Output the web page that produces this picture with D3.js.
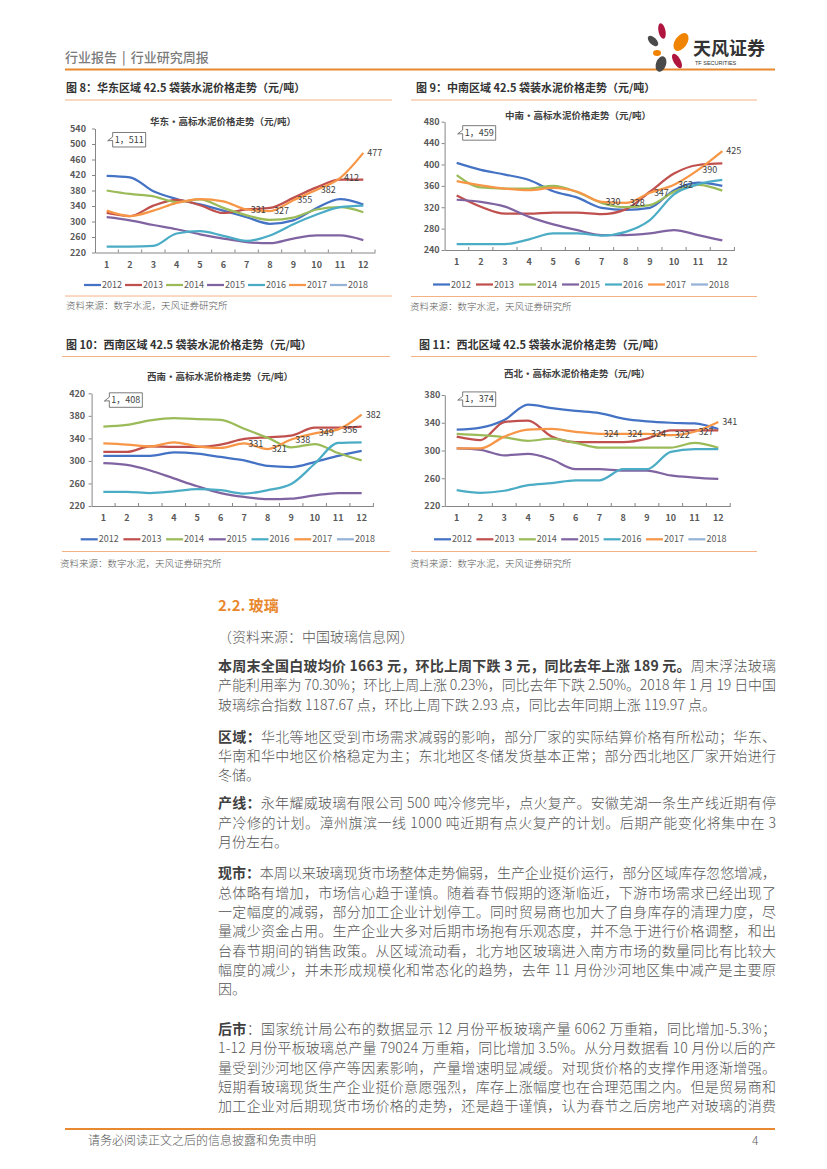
<!DOCTYPE html>
<html><head><meta charset="utf-8">
<script src="https://cdn.jsdelivr.net/npm/d3@7"></script>
<style>
html,body{margin:0;padding:0;background:#fff;}
svg{display:block;}
</style></head><body>
<script>
// ---------- data ----------
const months = ['1','2','3','4','5','6','7','8','9','10','11','12'];
const years = ['2012','2013','2014','2015','2016','2017','2018'];
const yearColors = ['#4472C4','#C0504D','#9BBB59','#8064A2','#4BACC6','#F79646','#95B3D7'];

// 华东
const east2012 = [418,414,378,358,344,328,311,294,303,335,358,344];
const east2013 = [322,314,341,356,342,322,331,335,361,388,408,408];
const east2014 = [380,371,365,350,357,335,316,304,310,331,337,324];
const east2015 = [311,303,291,280,267,256,247,244,256,264,264,252];
const east2016 = [235,235,237,269,275,263,250,264,293,318,337,341];
const east2017 = [328,314,328,348,358,352,331,327,355,382,412,477];
const east2018 = [511];
// 中南
const central2012 = [403,390,381,371,350,338,319,315,319,352,366,360];
const central2013 = [342,321,308,308,310,310,307,316,349,383,399,402];
const central2014 = [380,357,355,355,360,348,328,320,324,349,362,351];
const central2015 = [334,330,321,302,288,277,268,268,271,277,268,258];
const central2016 = [251,251,251,260,271,271,267,274,296,344,363,371];
const central2017 = [369,361,355,352,356,349,330,328,347,362,390,425];
const central2018 = [459];
// 西南
const sw2012 = [309,309,309,315,313,307,301,291,289,298,309,318];
const sw2013 = [316,316,326,325,325,329,339,342,345,359,359,361];
const sw2014 = [361,364,372,376,374,373,357,341,324,330,314,301];
const sw2015 = [296,293,283,269,255,243,236,232,233,239,243,243];
const sw2016 = [245,245,243,246,250,248,242,248,259,295,332,333];
const sw2017 = [331,329,326,333,326,323,331,321,338,349,356,382];
const sw2018 = [408];
// 西北
const nw2012 = [330,333,344,366,361,357,354,346,342,340,339,331];
const nw2013 = [320,315,341,343,320,312,312,312,317,329,329,329];
const nw2014 = [324,322,319,314,317,311,304,304,304,304,311,304];
const nw2015 = [303,301,293,295,287,273,273,271,271,264,261,259];
const nw2016 = [243,239,242,250,253,257,257,273,273,298,302,302];
const nw2017 = [303,303,320,330,331,327,324,324,324,322,327,341];
const nw2018 = [374];

const eastTicks = [220,260,300,340,380,420,460,500,540];
const centralTicks = [240,280,320,360,400,440,480];
const swTicks = [220,260,300,340,380,420];
const nwTicks = [220,260,300,340,380];

const labelMonths = ['7','8','9','10','11','12']; // 2017 data labels

// ---------- page ----------
const W = 827, H = 1169;
const FONT = "'Noto Sans CJK SC','Noto Sans',sans-serif";
const ORANGE = '#E8892F';
const svg = d3.select('body').append('svg').attr('width', W).attr('height', H)
  .style('font-family', FONT);

// header
const hdr = svg.append('text').attr('x', 65).attr('y', 62).attr('font-size', 13).attr('fill', '#7a7a7a')
  .attr('font-weight', 500);
hdr.append('tspan').text('行业报告');
hdr.append('tspan').attr('dx', 5).text('|');
hdr.append('tspan').attr('dx', 5).text('行业研究周报');
svg.append('line').attr('x1', 65).attr('x2', 775).attr('y1', 69.5).attr('y2', 69.5)
  .attr('stroke', ORANGE).attr('stroke-width', 2);
// logo
const logo = svg.append('g');
[
  [662, 31, 3.5, 8, -12, '#B0153F'],
  [681, 42, 6, 10, 35, '#F08300'],
  [653, 41, 3.5, 6.5, -45, '#4A4A4A'],
  [657, 53, 4, 3, 0, '#F08300'],
  [661, 64, 5, 8, 20, '#4A4A4A'],
  [677, 61, 3.5, 8, -30, '#B0153F']
].forEach(p => logo.append('ellipse').attr('cx', p[0]).attr('cy', p[1]).attr('rx', p[2]).attr('ry', p[3])
  .attr('transform', `rotate(${p[4]},${p[0]},${p[1]})`).attr('fill', p[5]));
svg.append('text').attr('x', 693).attr('y', 55).attr('font-size', 18).attr('font-weight', 700)
  .attr('fill', '#333').text('天风证券');
svg.append('text').attr('x', 695).attr('y', 65).attr('font-size', 5.5).attr('fill', '#333')
  .attr('font-family', 'Liberation Sans, Arial, sans-serif').text('TF SECURITIES');

// ---------- charts ----------
function drawChart(cfg) {
  const g = svg.append('g');
  const x = d3.scaleBand().domain(months).range(cfg.xRange);
  const y = d3.scaleLinear().domain(cfg.yDomain).range(cfg.yRange);
  const cx = m => x(m) + x.bandwidth() / 2;

  // figure title + rules
  g.append('text').attr('x', cfg.titleX).attr('y', cfg.titleY + 4).attr('font-size', 11)
    .attr('font-weight', 700).attr('fill', '#333').text(cfg.figTitle);
  g.append('line').attr('x1', cfg.ruleX[0]).attr('x2', cfg.ruleX[1]).attr('y1', cfg.ruleTop).attr('y2', cfg.ruleTop)
    .attr('stroke', '#F4B183').attr('stroke-width', 1);
  g.append('line').attr('x1', cfg.ruleX[0]).attr('x2', cfg.ruleX[1]).attr('y1', cfg.ruleBot).attr('y2', cfg.ruleBot)
    .attr('stroke', '#F4B183').attr('stroke-width', 1);
  g.append('text').attr('x', cfg.srcX).attr('y', cfg.srcY + 3.5).attr('font-size', 9.5).attr('fill', '#595959')
    .attr('font-weight', 300).text('资料来源：数字水泥，天风证券研究所');

  // inner title
  g.append('text').attr('x', cfg.innerX).attr('y', cfg.innerY + 3.5).attr('text-anchor', 'middle')
    .attr('font-size', 9.5).attr('font-weight', 700).attr('fill', '#404040').text(cfg.innerTitle);

  // y axis
  const ya = g.append('g').attr('transform', `translate(${cfg.xRange[0]},0)`)
    .call(d3.axisLeft(y).tickValues(cfg.yTicks).tickSize(3).tickSizeOuter(0).tickPadding(cfg.yPad).tickFormat(d3.format('d')));
  // x axis
  const xa = g.append('g').attr('transform', `translate(0,${cfg.yRange[0]})`)
    .call(d3.axisBottom(x).tickSize(0).tickPadding(9));
  [ya, xa].forEach(a => {
    a.select('.domain').attr('stroke', '#868686').attr('stroke-width', 1);
    a.selectAll('.tick line').attr('stroke', '#868686');
    a.selectAll('text').attr('font-size', 9).attr('font-weight', 700).attr('fill', '#595959')
      .attr('font-family', FONT);
  });
  // category boundary ticks
  g.append('g').selectAll('line').data(months.slice(1).concat(['end'])).join('line')
    .attr('x1', d => d === 'end' ? cfg.xRange[1] : x(d))
    .attr('x2', d => d === 'end' ? cfg.xRange[1] : x(d))
    .attr('y1', cfg.yRange[0] - 3).attr('y2', cfg.yRange[0])
    .attr('stroke', '#868686');

  // lines
  const line = d3.line().x((d, i) => cx(months[i])).y(d => y(d)).curve(d3.curveMonotoneX);
  cfg.series.forEach((s, k) => {
    if (s.length > 1) {
      g.append('path').datum(s).attr('d', line).attr('fill', 'none')
        .attr('stroke', yearColors[k]).attr('stroke-width', 2.25).attr('stroke-linejoin', 'round');
    }
  });

  // data labels for 2017
  const s17 = cfg.series[5];
  g.append('g').selectAll('text').data(labelMonths).join('text')
    .attr('x', m => cx(m) + 4).attr('y', m => y(s17[months.indexOf(m)]))
    .attr('dy', '0.35em').attr('font-size', 9).attr('fill', '#404040').text(m => s17[months.indexOf(m)]);

  // 2018 callout
  const v18 = cfg.series[6][0];
  const px = cx('1'), py = y(v18);
  const bx = px + 6, bw = 33, bh = 14.5, by = py - bh / 2;
  g.append('path')
    .attr('d', `M${bx},${by} H${bx + bw} V${by + bh} H${bx} V${by + bh * 0.55} L${px + 1},${py + 1} L${bx},${by + bh * 0.3} Z`)
    .attr('fill', '#fff').attr('stroke', '#595959').attr('stroke-width', 0.8);
  g.append('text').attr('x', bx + bw / 2).attr('y', py).attr('dy', '0.35em').attr('text-anchor', 'middle')
    .attr('font-size', 9).attr('fill', '#404040').text(`1，${v18}`);

  // legend
  const lg = g.append('g');
  years.forEach((yr, k) => {
    const lx = cfg.legX + k * cfg.legStep;
    lg.append('line').attr('x1', lx).attr('x2', lx + 17).attr('y1', cfg.legY).attr('y2', cfg.legY)
      .attr('stroke', yearColors[k]).attr('stroke-width', 2.25);
    lg.append('text').attr('x', lx + 18).attr('y', cfg.legY).attr('dy', '0.35em')
      .attr('font-size', 9).attr('fill', '#595959').text(yr);
  });
}

drawChart({
  series: [east2012, east2013, east2014, east2015, east2016, east2017, east2018],
  xRange: [95, 375], yDomain: [220, 540], yRange: [252.5, 128.5], yTicks: eastTicks, yPad: 6,
  figTitle: '图 8：华东区域 42.5 袋装水泥价格走势（元/吨）', titleX: 66, titleY: 88,
  ruleX: [65, 392], ruleTop: 100, ruleBot: 296, srcX: 66, srcY: 305.5,
  innerTitle: '华东·高标水泥价格走势（元/吨）', innerX: 223, innerY: 121.5,
  legX: 84, legStep: 41, legY: 285
});
drawChart({
  series: [central2012, central2013, central2014, central2015, central2016, central2017, central2018],
  xRange: [444.6, 734.4], yDomain: [240, 480], yRange: [250, 121.7], yTicks: centralTicks, yPad: 2,
  figTitle: '图 9：中南区域 42.5 袋装水泥价格走势（元/吨）', titleX: 416, titleY: 88,
  ruleX: [411, 757], ruleTop: 100, ruleBot: 296.5, srcX: 410, srcY: 306.5,
  innerTitle: '中南·高标水泥价格走势（元/吨）', innerX: 578, innerY: 115,
  legX: 433, legStep: 43, legY: 284.5
});
drawChart({
  series: [sw2012, sw2013, sw2014, sw2015, sw2016, sw2017, sw2018],
  xRange: [91.6, 373.4], yDomain: [220, 420], yRange: [506, 393.3], yTicks: swTicks, yPad: 3.5,
  figTitle: '图 10：西南区域 42.5 袋装水泥价格走势（元/吨）', titleX: 66, titleY: 345,
  ruleX: [62, 390], ruleTop: 356.5, ruleBot: 551.5, srcX: 60, srcY: 563.3,
  innerTitle: '西南·高标水泥价格走势（元/吨）', innerX: 220, innerY: 376.5,
  legX: 80.7, legStep: 42.7, legY: 539.3
});
drawChart({
  series: [nw2012, nw2013, nw2014, nw2015, nw2016, nw2017, nw2018],
  xRange: [444.8, 730.2], yDomain: [220, 380], yRange: [506, 395], yTicks: nwTicks, yPad: 1.5,
  figTitle: '图 11：西北区域 42.5 袋装水泥价格走势（元/吨）', titleX: 419, titleY: 345,
  ruleX: [411, 757], ruleTop: 356.5, ruleBot: 551.5, srcX: 410, srcY: 563.3,
  innerTitle: '西北·高标水泥价格走势（元/吨）', innerX: 577, innerY: 373,
  legX: 434, legStep: 42.4, legY: 539.3
});

// ---------- body text ----------
const bodyLeft = 218, bodyWidth = 558;
svg.append('text').attr('x', bodyLeft).attr('y', 610.5).attr('font-size', 15).attr('font-weight', 700)
  .attr('fill', ORANGE).text('2.2. 玻璃');
svg.append('text').attr('x', bodyLeft).attr('y', 641.5).attr('font-size', 14).attr('fill', '#595959')
  .attr('font-weight', 300).text('（资料来源：中国玻璃信息网）');

// each line: [centerY, fullWidth?, segments [[bold?, text], ...]]
const bodyLines = [
  [666, true, [[1, '本周末全国白玻均价 1663 元，环比上周下跌 3 元，同比去年上涨 189 元。'], [0, '周末浮法玻璃']]],
  [685.3, true, [[0, '产能利用率为 70.30%；环比上周上涨 0.23%，同比去年下跌 2.50%。2018 年 1 月 19 日中国']]],
  [704.6, false, [[0, '玻璃综合指数 1187.67 点，环比上周下跌 2.93 点，同比去年同期上涨 119.97 点。']]],
  [736.7, true, [[1, '区域：'], [0, '华北等地区受到市场需求减弱的影响，部分厂家的实际结算价格有所松动；华东、']]],
  [756, true, [[0, '华南和华中地区价格稳定为主；东北地区冬储发货基本正常；部分西北地区厂家开始进行']]],
  [775.3, false, [[0, '冬储。']]],
  [803.3, true, [[1, '产线：'], [0, '永年耀威玻璃有限公司 500 吨冷修完毕，点火复产。安徽芜湖一条生产线近期有停']]],
  [822.6, true, [[0, '产冷修的计划。漳州旗滨一线 1000 吨近期有点火复产的计划。后期产能变化将集中在 3']]],
  [841.9, false, [[0, '月份左右。']]],
  [873.3, true, [[1, '现市：'], [0, '本周以来玻璃现货市场整体走势偏弱，生产企业挺价运行，部分区域库存忽悠增减，']]],
  [892.6, true, [[0, '总体略有增加，市场信心趋于谨慎。随着春节假期的逐渐临近，下游市场需求已经出现了']]],
  [911.9, true, [[0, '一定幅度的减弱，部分加工企业计划停工。同时贸易商也加大了自身库存的清理力度，尽']]],
  [931.2, true, [[0, '量减少资金占用。生产企业大多对后期市场抱有乐观态度，并不急于进行价格调整，和出']]],
  [950.5, true, [[0, '台春节期间的销售政策。从区域流动看，北方地区玻璃进入南方市场的数量同比有比较大']]],
  [969.8, true, [[0, '幅度的减少，并未形成规模化和常态化的趋势，去年 11 月份沙河地区集中减产是主要原']]],
  [989.1, false, [[0, '因。']]],
  [1029, true, [[1, '后市'], [0, '：国家统计局公布的数据显示 12 月份平板玻璃产量 6062 万重箱，同比增加-5.3%；']]],
  [1048.3, true, [[0, '1-12 月份平板玻璃总产量 79024 万重箱，同比增加 3.5%。从分月数据看 10 月份以后的产']]],
  [1067.6, true, [[0, '量受到沙河地区停产等因素影响，产量增速明显减缓。对现货价格的支撑作用逐渐增强。']]],
  [1086.9, true, [[0, '短期看玻璃现货生产企业挺价意愿强烈，库存上涨幅度也在合理范围之内。但是贸易商和']]],
  [1106.2, true, [[0, '加工企业对后期现货市场价格的走势，还是趋于谨慎，认为春节之后房地产对玻璃的消费']]]
];
const body = svg.append('g');
bodyLines.forEach(([cy, full, segs]) => {
  const t = body.append('text').attr('x', bodyLeft).attr('y', cy + 5).attr('font-size', 14).attr('fill', '#595959');
  if (full) t.attr('textLength', bodyWidth).attr('lengthAdjust', 'spacing');
  segs.forEach(([b, s]) => t.append('tspan').attr('font-weight', b ? 700 : 300)
    .attr('fill', b ? '#404040' : '#555').text(s));
});

// ---------- footer ----------
svg.append('line').attr('x1', 65).attr('x2', 775).attr('y1', 1129).attr('y2', 1129)
  .attr('stroke', ORANGE).attr('stroke-width', 2);
svg.append('text').attr('x', 88).attr('y', 1145).attr('font-size', 12).attr('fill', '#595959')
  .attr('font-weight', 300).text('请务必阅读正文之后的信息披露和免责申明');
svg.append('text').attr('x', 752).attr('y', 1145).attr('font-size', 12).attr('fill', '#595959')
  .attr('font-weight', 300).text('4');
</script>
</body></html>
